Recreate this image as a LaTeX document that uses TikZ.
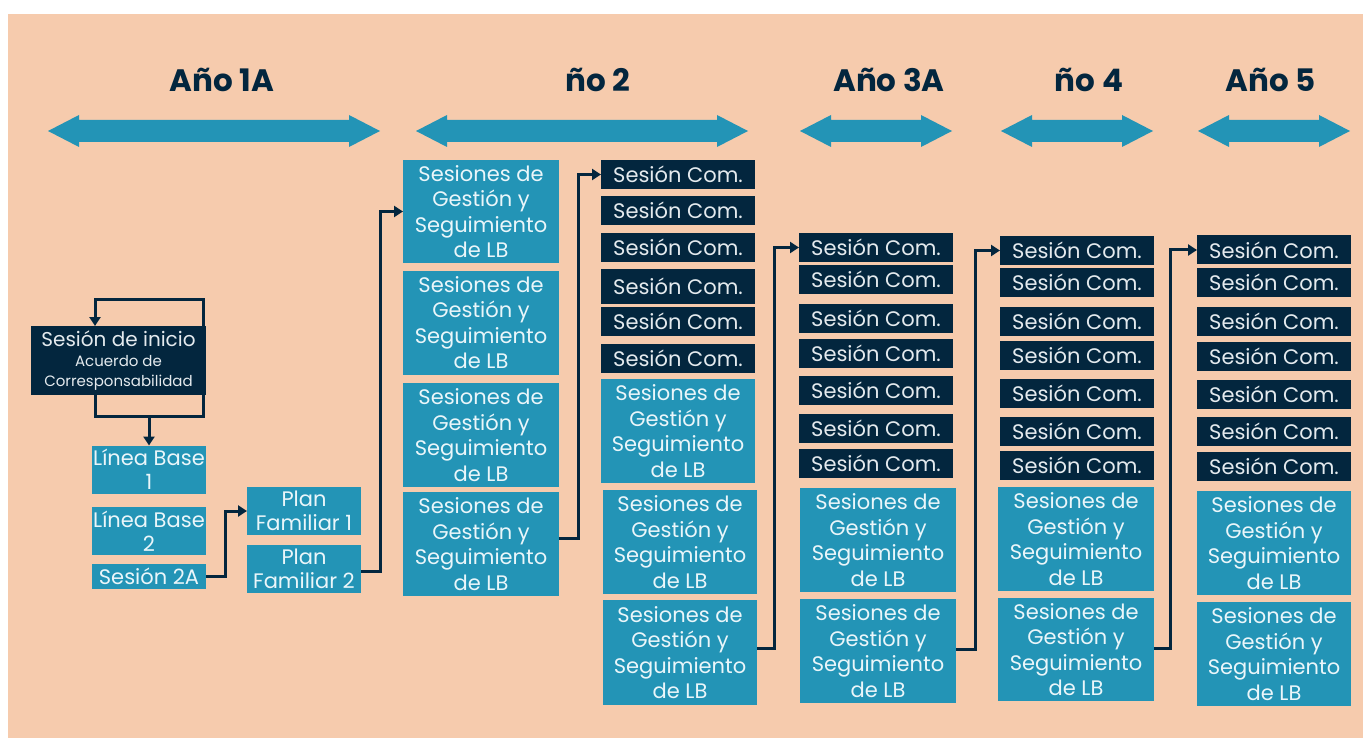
\documentclass[tikz,border=0pt]{standalone}
\usepackage{fontspec}
\setmainfont{Poppins}
\usetikzlibrary{arrows.meta}
\definecolor{peach}{HTML}{F6CBAD}
\definecolor{tealb}{HTML}{2394B6}
\definecolor{navy}{HTML}{03263E}
\definecolor{boxtext}{HTML}{EAF6FA}
\definecolor{comtext}{HTML}{E4EAEE}
\newcommand\yeararrow[2]{\fill[tealb] (#1,131) -- (#1+31,115) -- (#1+31,120) -- (#2-31,120) -- (#2-31,115) -- (#2,131) -- (#2-31,147) -- (#2-31,142) -- (#1+31,142) -- (#1+31,147) -- cycle;}
\begin{document}
\begin{tikzpicture}[x=1pt,y=-1pt,
  box/.style={inner sep=0pt, outer sep=0pt, align=center, font=\fontsize{21}{25.5}\selectfont},
  ses/.style={box, fill=tealb, text=boxtext, minimum width=154pt, minimum height=104pt},
  com/.style={box, fill=navy, text=comtext, minimum width=154pt, minimum height=29pt},
  small/.style={box, fill=tealb, text=boxtext, minimum width=114pt, minimum height=48pt, font=\fontsize{21}{24}\selectfont},
  title/.style={anchor=base, text=navy, font=\bfseries\fontsize{31}{31}\selectfont},
  conn/.style={draw=navy, line width=3pt},
  arr/.style={conn, -{Triangle[length=9pt,width=11pt]}}]
\useasboundingbox (0,0) rectangle (1363,738);
\fill[peach] (8,14) rectangle (1363,738);

% titles
\node[title] (t1) at (222,92) {Año 1A};
\node[title] (t2) at (598,92) {ño 2};
\node[title] (t3) at (889,92) {Año 3A};
\node[title] (t4) at (1089,92) {ño 4};
\node[title] (t5) at (1271,92) {Año 5};

% year arrows
\yeararrow{48}{380}
\yeararrow{416}{748}
\yeararrow{800}{952}
\yeararrow{1001}{1153}
\yeararrow{1198}{1350}

% left part
\node[box, fill=navy, text=comtext, minimum width=175pt, minimum height=69pt, font=\fontsize{15}{20}\selectfont] (ini) at (118.5,360.5)
  {{\fontsize{20}{20}\selectfont Sesión de inicio}\\Acuerdo de\\Corresponsabilidad};
\node[small] (lb1) at (149,469.5) {Línea Base\\1};
\node[small] (lb2) at (149,531) {Línea Base\\2};
\node[small, minimum height=25pt] (s2a) at (149,576.5) {Sesión 2A};
\node[small] (pf1) at (304,511) {Plan\\Familiar 1};
\node[small] (pf2) at (304,569) {Plan\\Familiar 2};

\draw[arr] ([xshift=-3pt]ini.north east) -- ++(0,-27) -| ([xshift=64pt]ini.north west);
\coordinate (lb) at (149,416);
\draw[conn] ([xshift=64pt]ini.south west) |- (lb) -| ([xshift=-3pt]ini.south east);
\draw[arr] (lb) -- (lb1.north);

% column 2
\node[ses, minimum width=156pt, minimum height=103pt] (sA) at (481,211.5) {Sesiones de\\Gestión y\\Seguimiento\\de LB};
\node[ses, minimum width=156pt] (sB) at (481,322.5) {Sesiones de\\Gestión y\\Seguimiento\\de LB};
\node[ses, minimum width=156pt] (sC) at (481,435) {Sesiones de\\Gestión y\\Seguimiento\\de LB};
\node[ses, minimum width=156pt] (sD) at (481,544) {Sesiones de\\Gestión y\\Seguimiento\\de LB};

% column 3
\node[com] (c3a) at (678,174.5) {Sesión Com.};
\node[com] (c3b) at (678,210.5) {Sesión Com.};
\node[com] (c3c) at (678,247.5) {Sesión Com.};
\node[com, minimum height=35pt] (c3d) at (678,286.5) {Sesión Com.};
\node[com] (c3e) at (678,321.5) {Sesión Com.};
\node[com] (c3f) at (678,358.5) {Sesión Com.};
\node[ses] (sE) at (678,431) {Sesiones de\\Gestión y\\Seguimiento\\de LB};
\node[ses] (sF) at (680,542) {Sesiones de\\Gestión y\\Seguimiento\\de LB};
\node[ses, minimum height=105pt] (sG) at (680,652.5) {Sesiones de\\Gestión y\\Seguimiento\\de LB};

% column 4
\node[com] (c4a) at (876,247.5) {Sesión Com.};
\node[com] (c4b) at (876,279.5) {Sesión Com.};
\node[com] (c4c) at (876,318.5) {Sesión Com.};
\node[com] (c4d) at (876,353.5) {Sesión Com.};
\node[com] (c4e) at (876,390.5) {Sesión Com.};
\node[com] (c4f) at (876,428.5) {Sesión Com.};
\node[com] (c4g) at (876,463.5) {Sesión Com.};
\node[ses, minimum width=156pt] (sH) at (878,540) {Sesiones de\\Gestión y\\Seguimiento\\de LB};
\node[ses, minimum width=156pt] (sI) at (878,651) {Sesiones de\\Gestión y\\Seguimiento\\de LB};

% column 5
\node[com] (c5a) at (1077,250.5) {Sesión Com.};
\node[com] (c5b) at (1077,282.5) {Sesión Com.};
\node[com] (c5c) at (1077,321.5) {Sesión Com.};
\node[com] (c5d) at (1077,355.5) {Sesión Com.};
\node[com] (c5e) at (1077,393.5) {Sesión Com.};
\node[com] (c5f) at (1077,431.5) {Sesión Com.};
\node[com] (c5g) at (1077,465.5) {Sesión Com.};
\node[ses, minimum width=156pt] (sJ) at (1076,539) {Sesiones de\\Gestión y\\Seguimiento\\de LB};
\node[ses, minimum width=156pt, minimum height=103pt] (sK) at (1076,649.5) {Sesiones de\\Gestión y\\Seguimiento\\de LB};

% column 6
\node[com] (c6a) at (1274,250) {Sesión Com.};
\node[com] (c6b) at (1274,282.5) {Sesión Com.};
\node[com] (c6c) at (1274,321.5) {Sesión Com.};
\node[com] (c6d) at (1274,356) {Sesión Com.};
\node[com] (c6e) at (1274,394) {Sesión Com.};
\node[com] (c6f) at (1274,431) {Sesión Com.};
\node[com] (c6g) at (1274,466) {Sesión Com.};
\node[ses] (sL) at (1274,543) {Sesiones de\\Gestión y\\Seguimiento\\de LB};
\node[ses] (sM) at (1274,654) {Sesiones de\\Gestión y\\Seguimiento\\de LB};

% connectors
\draw[arr] (s2a.east) -- ++(19,0) |- (pf1.west);
\draw[arr] ([yshift=-2pt]pf2.east) -- ++(19,0) |- (sA.west);
\draw[arr] ([yshift=6pt]sD.east) -- ++(19,0) |- (c3a.west);
\draw[arr] ([yshift=4pt]sG.east) -- ++(17,0) |- (c4a.west);
\draw[arr] ([yshift=2pt]sI.east) -- ++(19,0) |- (c5a.west);
\draw[arr] ([yshift=1pt]sK.east) -- ++(16,0) |- (c6a.west);
\end{tikzpicture}
\end{document}
